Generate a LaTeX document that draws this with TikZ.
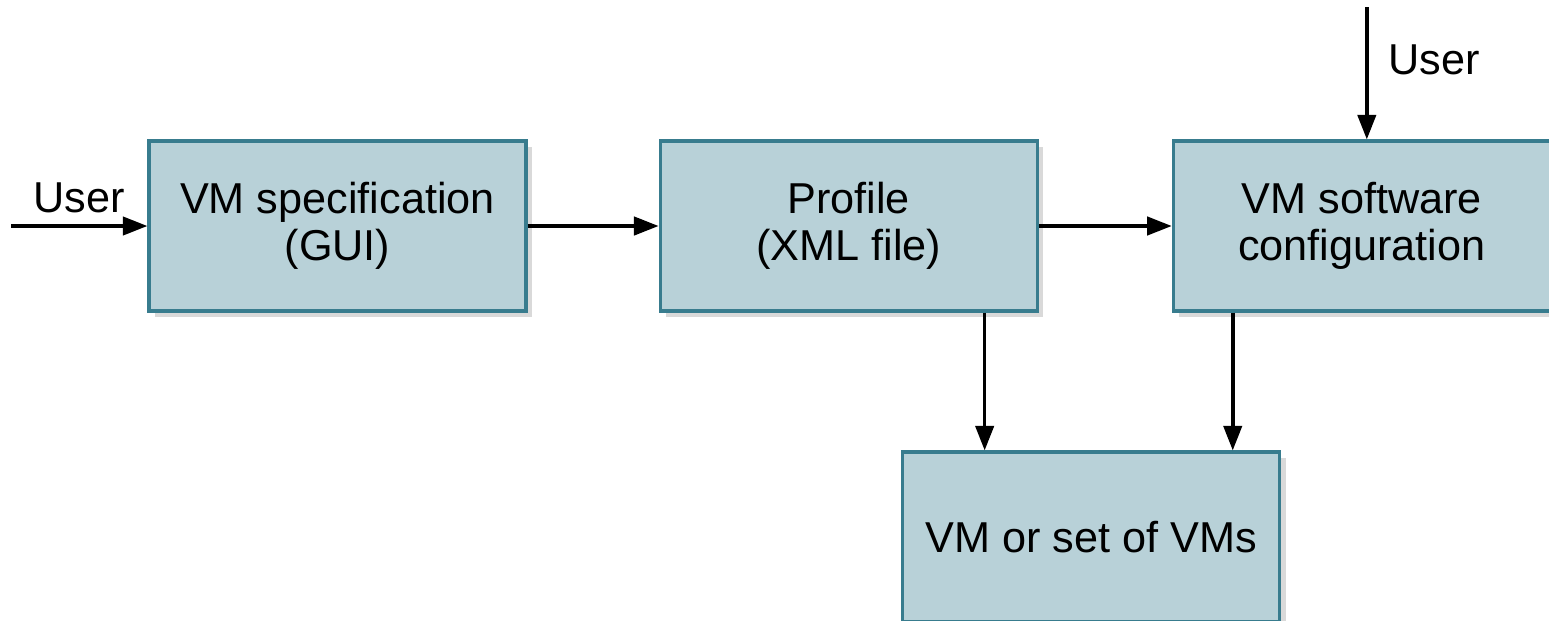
\documentclass[tikz,border=0pt]{standalone}
\usepackage{fontspec}
\setmainfont{Liberation Sans}
\usetikzlibrary{positioning,shadows,arrows.meta}
\definecolor{boxfill}{RGB}{184,209,216}
\definecolor{boxline}{RGB}{56,124,142}
\tikzset{
  vmbox/.style={rectangle, minimum width=3.77cm, minimum height=1.70cm, text centered, align=center, draw=boxline, line width=0.9pt, fill=boxfill, font=\fontsize{12.3}{13.4}\selectfont, drop shadow={shadow xshift=0.06cm, shadow yshift=-0.06cm, opacity=0.3}},
  arr/.style={-{Triangle[length=7pt,width=5.2pt]}, line width=1pt},
  lbl/.style={font=\fontsize{12.3}{13.4}\selectfont},
  node distance=1.31cm
}
\begin{document}
\begin{tikzpicture}
	\useasboundingbox (0,0) rectangle (15.49,-6.2);
	\node[vmbox] (spec) at (3.375,-2.26) {VM specification\\(GUI)};
	\node[vmbox, right=of spec] (prof) {Profile\\(XML file)};
	\node[vmbox, right=1.33cm of prof] (conf) {VM software\\configuration};
	\node[vmbox] (vms) at (10.91,-5.37) {VM or set of VMs};
	%
	\coordinate[left=1.36cm of spec.west] (userin);
	\coordinate[above=1.32cm of conf.north, xshift=0.05cm] (usertop);
	%
	\draw[arr] (userin) -- node[lbl, above] {User} (spec);
	\draw[arr] (spec) -- (prof);
	\draw[arr] (prof) -- (conf);
	\draw[arr] (usertop) -- node[lbl, right, pos=0.4, xshift=0.08cm] {User} (usertop |- conf.north);
	\draw[arr] ([xshift=1.36cm]prof.south) -- ([xshift=1.36cm]prof.south |- vms.north);
	\draw[arr] ([xshift=0.61cm]conf.south west) -- ([xshift=0.61cm]conf.south west |- vms.north);
\end{tikzpicture}
\end{document}
